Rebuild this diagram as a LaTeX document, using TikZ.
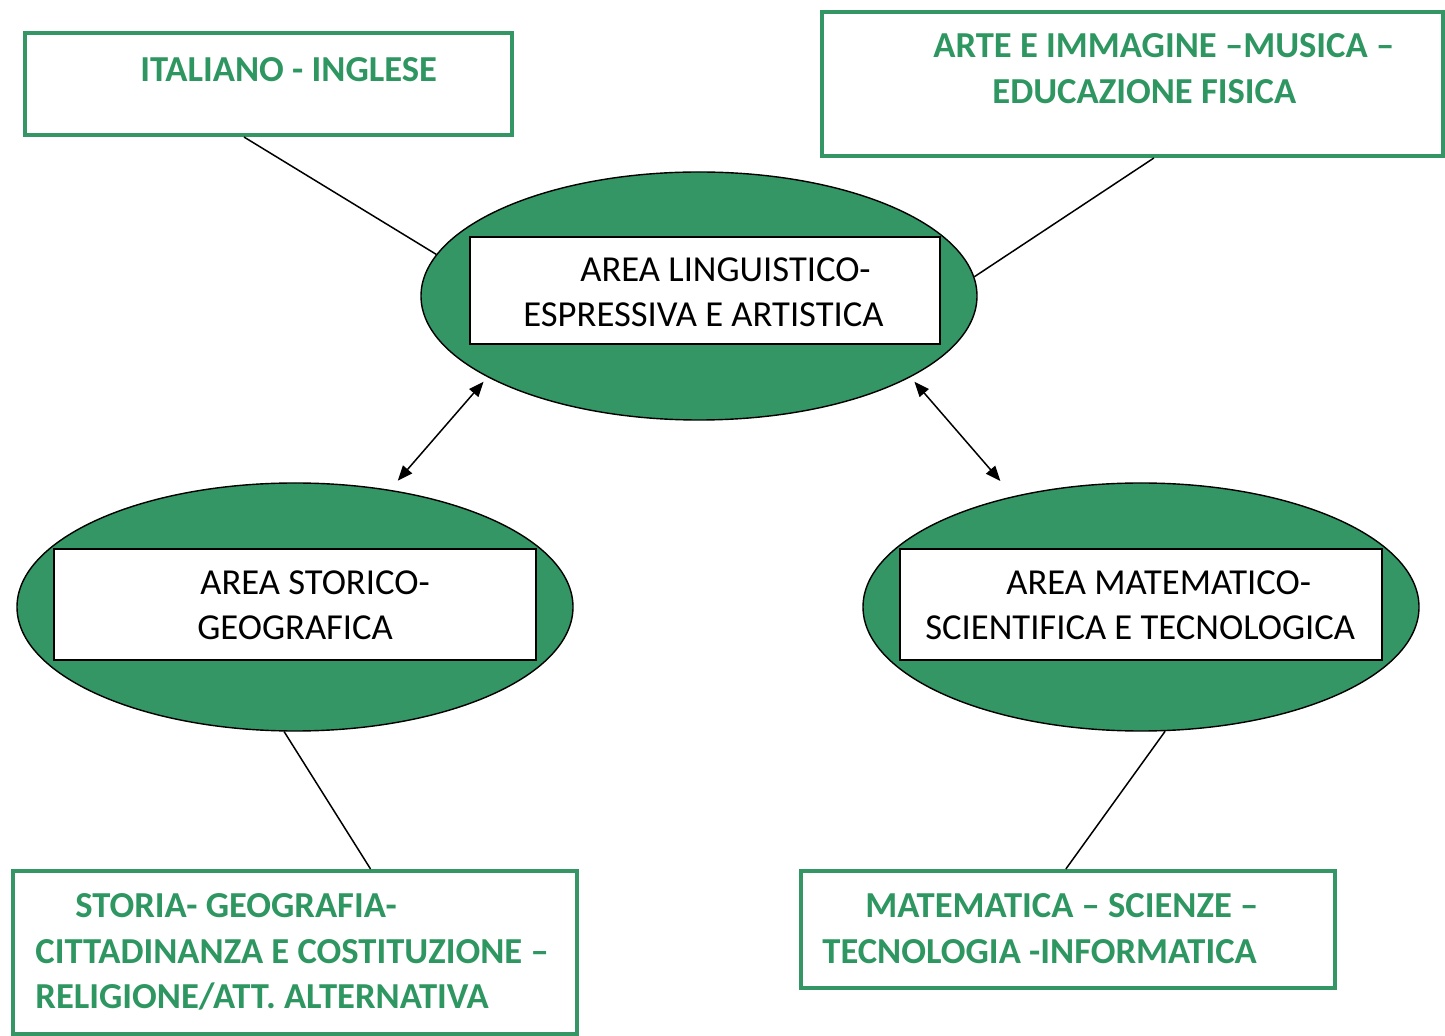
\documentclass[tikz,border=0pt]{standalone}
\usepackage{fontspec}
\setmainfont{Carlito}
\usetikzlibrary{arrows.meta,shapes.geometric,calc}
\definecolor{fgreen}{RGB}{51,150,100}
\definecolor{tgreen}{RGB}{46,150,96}
\begin{document}
\begin{tikzpicture}[x=0.5pt,y=-0.5pt,
  gbox/.style={draw=fgreen, line width=2pt, rectangle, inner sep=0pt},
  oval/.style={ellipse, draw=black, line width=0.7pt, fill=fgreen, inner sep=0pt, minimum width=278pt, minimum height=124pt},
  wbox/.style={rectangle, draw=black, line width=0.7pt, fill=white, inner sep=0pt, minimum width=241pt, minimum height=55.5pt},
  gtext/.style={text=tgreen, font=\fontsize{18.3}{22.9}\selectfont\bfseries, align=left, anchor=west, inner sep=0pt},
  btext/.style={text=black, font=\fontsize{18.3}{22.6}\selectfont, align=left, anchor=west, inner sep=0pt},
  link/.style={draw=black, line width=0.75pt},
  biarrow/.style={link, {Triangle[length=7.5pt,width=6pt]}-{Triangle[length=7.5pt,width=6pt]}}
]
\useasboundingbox (0,0) rectangle (1445,1036);

% green boxes
\node[gbox, minimum width=243.5pt, minimum height=51pt] (b1) at (268.5,84) {};
\node[gbox, minimum width=310.5pt, minimum height=72pt] (b2) at (1132,84) {};
\node[gbox, minimum width=282pt, minimum height=81.5pt] (b4) at (295,952.5) {};
\node[gbox, minimum width=267pt, minimum height=58.5pt] (b5) at (1068,929.5) {};

\node[gtext] (g1) at (140,70) {ITALIANO - INGLESE};
\node[gtext] (g2) at (933,69) {ARTE E IMMAGINE –MUSICA –\\\hspace*{29.5pt}EDUCAZIONE FISICA};
\node[gtext] (g4) at (35,952) {\hspace*{20pt}STORIA- GEOGRAFIA-\\CITTADINANZA E COSTITUZIONE –\\RELIGIONE/ATT. ALTERNATIVA};
\node[gtext] (g5) at (822,929) {\hspace*{21.5pt}MATEMATICA – SCIENZE –\\TECNOLOGIA -INFORMATICA};

% ellipses
\node[oval] (e1) at (699,296) {};
\node[oval] (e2) at (295,607) {};
\node[oval] (e3) at (1141,607) {};

\node[wbox, minimum width=235pt, minimum height=53.5pt] (r1) at (705,290.5) {};
\node[wbox] (r2) at (295,604.5) {};
\node[wbox] (r3) at (1141,604.5) {};

\node[btext] (t1) at (523,292.5) {\hspace*{28.5pt}AREA LINGUISTICO-\\ESPRESSIVA E ARTISTICA};
\node[btext] (t2) at (197,605.5) {\hspace*{1.5pt}AREA STORICO-\\GEOGRAFICA};
\node[btext] (t3) at (925,605.5) {\hspace*{40.5pt}AREA MATEMATICO-\\SCIENTIFICA E TECNOLOGICA};

% connectors
\draw[link] ($(b1.south west)!0.45!(b1.south east)$) -- (e1.171);
\draw[link] ($(b2.south west)!0.535!(b2.south east)$) -- (e1.4);
\draw[link] (e2.265) -- ($(b4.north west)!0.633!(b4.north east)$);
\draw[link] (e3.281) -- ($(b5.north west)!0.496!(b5.north east)$);
\draw[biarrow, shorten <=3pt, shorten >=6pt] (e1.201) -- (e2.51);
\draw[biarrow, shorten <=3pt, shorten >=10pt] (e1.339) -- (e3.139);
\end{tikzpicture}
\end{document}
